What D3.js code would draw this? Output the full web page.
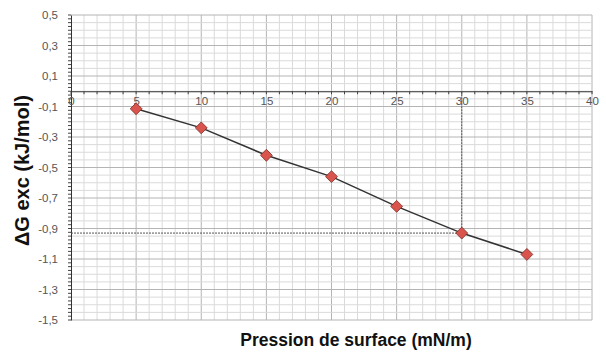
<!DOCTYPE html>
<html lang="fr">
<head>
<meta charset="utf-8">
<script src="https://cdn.jsdelivr.net/npm/d3@7"></script>
<style>
  body { margin: 0; background: #fff; }
  text { font-family: "Liberation Sans", Arial, sans-serif; }
</style>
</head>
<body>
<script>
// data
var pression = [5, 10, 15, 20, 25, 30, 35];
var deltaG = [-0.115, -0.24, -0.42, -0.56, -0.755, -0.93, -1.07];
var xTicks = [0, 5, 10, 15, 20, 25, 30, 35, 40];
var yTicks = [0.5, 0.3, 0.1, -0.1, -0.3, -0.5, -0.7, -0.9, -1.1, -1.3, -1.5];
var lectureX = 30, lectureY = -0.93;

var w = 606, h = 356;
var x = d3.scaleLinear().domain([0, 40]).range([71, 592]);
var y = d3.scaleLinear().domain([-1.5, 0.5]).range([320, 15]);
var fmt = function(d){ return String(+d.toFixed(1)).replace(".", ","); };

var svg = d3.select("body").append("svg").attr("width", w).attr("height", h);

// minor grid
svg.append("g").selectAll("line").data(d3.range(1, 41))
  .enter().append("line")
  .attr("x1", function(d){ return x(d); }).attr("x2", function(d){ return x(d); })
  .attr("y1", y(0.5)).attr("y2", y(-1.5))
  .attr("stroke", function(d){ return d % 5 === 0 ? "#b4b4b4" : "#dadada"; })
  .attr("stroke-width", 1);

svg.append("g").selectAll("line").data(d3.range(0, 41).map(function(i){ return -1.5 + i * 0.05; }))
  .enter().append("line")
  .attr("x1", x(0)).attr("x2", x(40))
  .attr("y1", function(d){ return y(d); }).attr("y2", function(d){ return y(d); })
  .attr("stroke", function(d){
    var k = Math.round((d + 1.5) / 0.05);
    return k % 4 === 0 ? "#b4b4b4" : "#dadada";
  })
  .attr("stroke-width", 1);

// y axis
var yAxis = d3.axisLeft(y).tickValues(yTicks).tickFormat(fmt).tickSize(0).tickPadding(13);
var gy = svg.append("g").attr("transform", "translate(" + x(0) + ",0)").call(yAxis);
gy.select(".domain").attr("stroke", "#333");
gy.selectAll("text").attr("font-size", 11.5).attr("fill", "#555");
svg.append("g").selectAll("line").data(d3.range(0, 81).map(function(i){ return -1.5 + i * 0.025; }))
  .enter().append("line")
  .attr("x1", x(0) - 3).attr("x2", x(0))
  .attr("y1", function(d){ return y(d); }).attr("y2", function(d){ return y(d); })
  .attr("stroke", "#444");

// x axis on zero line
var xAxis = d3.axisBottom(x).tickValues(xTicks).tickFormat(d3.format("d")).tickSize(0).tickPadding(6);
var gx = svg.append("g").attr("transform", "translate(0," + y(0) + ")").call(xAxis);
gx.select(".domain").attr("stroke", "#333");
gx.selectAll("text").attr("font-size", 11.5).attr("fill", "#555");
svg.append("g").selectAll("line").data(d3.range(0, 41))
  .enter().append("line")
  .attr("x1", function(d){ return x(d); }).attr("x2", function(d){ return x(d); })
  .attr("y1", y(0)).attr("y2", y(0) + 3)
  .attr("stroke", "#444");

// reading lines
svg.append("line")
  .attr("x1", x(lectureX)).attr("x2", x(lectureX))
  .attr("y1", y(0)).attr("y2", y(lectureY))
  .attr("stroke", "#555").attr("stroke-dasharray", "2,1");
svg.append("line")
  .attr("x1", x(0)).attr("x2", x(lectureX))
  .attr("y1", y(lectureY)).attr("y2", y(lectureY))
  .attr("stroke", "#555").attr("stroke-dasharray", "2,1");

// series
var data = pression.map(function(p, i){ return { p: p, g: deltaG[i] }; });
var line = d3.line().x(function(d){ return x(d.p); }).y(function(d){ return y(d.g); });
svg.append("path").datum(data).attr("d", line)
  .attr("fill", "none").attr("stroke", "#333").attr("stroke-width", 1.5);

svg.append("g").selectAll("path").data(data).enter().append("path")
  .attr("d", d3.symbol().type(d3.symbolDiamond2).size(90))
  .attr("transform", function(d){ return "translate(" + x(d.p) + "," + y(d.g) + ")"; })
  .attr("fill", "#d9544c").attr("stroke", "#7a2a24").attr("stroke-width", 0.8);

// axis titles
svg.append("text")
  .attr("transform", "translate(29," + y(-0.52) + ") rotate(-90)")
  .attr("text-anchor", "middle")
  .attr("font-size", 20).attr("font-weight", "bold").attr("fill", "#111")
  .text("ΔG exc (kJ/mol)");

svg.append("text")
  .attr("x", 356).attr("y", 346)
  .attr("text-anchor", "middle")
  .attr("font-size", 17.5).attr("font-weight", "bold").attr("fill", "#111")
  .text("Pression de surface (mN/m)");
</script>
</body>
</html>
